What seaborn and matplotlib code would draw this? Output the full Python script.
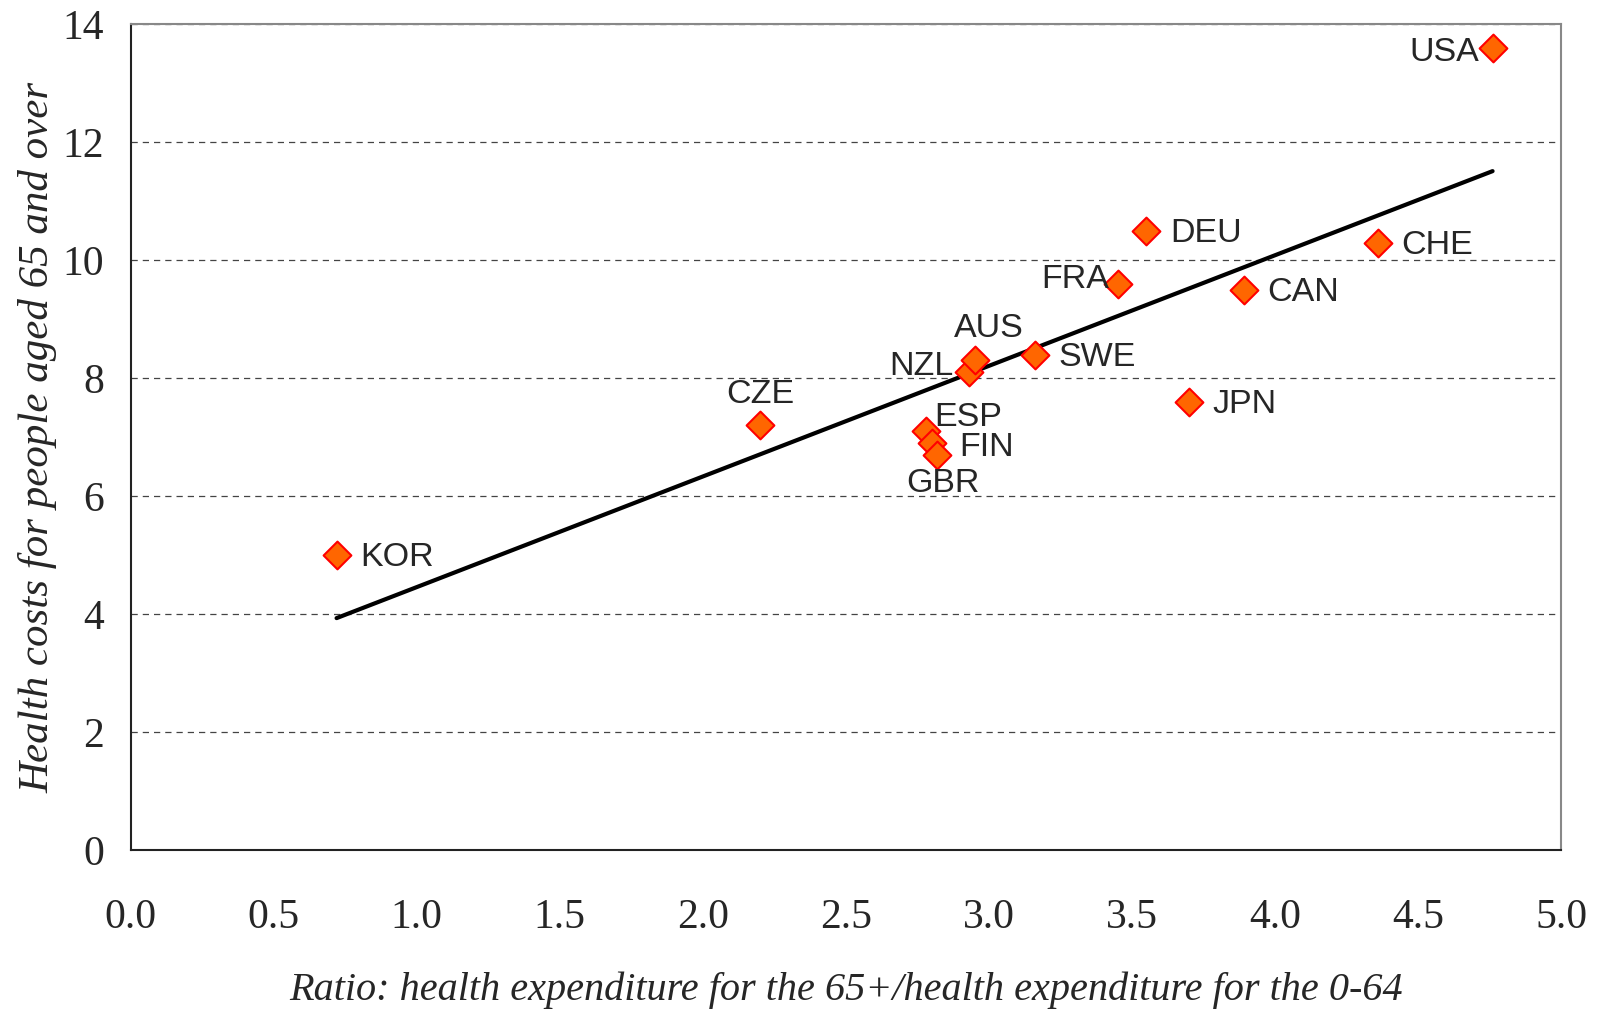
import pandas as pd
import matplotlib
matplotlib.use("Agg")
import matplotlib.pyplot as plt
import seaborn as sns

# Data
countries = ["KOR", "CZE", "ESP", "FIN", "GBR", "NZL", "AUS", "SWE",
             "FRA", "DEU", "JPN", "CAN", "CHE", "USA"]
ratio = [0.72, 2.20, 2.78, 2.80, 2.82, 2.93, 2.95, 3.16,
         3.45, 3.55, 3.70, 3.89, 4.36, 4.76]
costs = [5.0, 7.2, 7.1, 6.9, 6.7, 8.1, 8.3, 8.4,
         9.6, 10.5, 7.6, 9.5, 10.3, 13.6]

df = pd.DataFrame({"country": countries, "ratio": ratio, "costs": costs})

# label placement: offset in points and alignment
label_pos = {
    "KOR": (17, -2, "left"),
    "CZE": (0, 22, "center"),
    "ESP": (6, 10, "left"),
    "FIN": (20, -3, "left"),
    "GBR": (4, -21, "center"),
    "NZL": (-11, 4, "right"),
    "AUS": (10, 23, "center"),
    "SWE": (17, -2, "left"),
    "FRA": (-6, 3, "right"),
    "DEU": (17, -2, "left"),
    "JPN": (17, -2, "left"),
    "CAN": (17, -2, "left"),
    "CHE": (17, -2, "left"),
    "USA": (-10, -3, "right"),
}

sns.set_style("white")

fig, ax = plt.subplots(figsize=(15.98, 10.13), dpi=100)
fig.subplots_adjust(left=0.0817, right=0.977, bottom=0.161, top=0.976)

ax.yaxis.grid(True, linestyle=(0, (5, 4)), color="#444444", linewidth=0.9)
ax.set_axisbelow(True)

sns.regplot(data=df, x="ratio", y="costs", ci=None, truncate=True,
            scatter=False, line_kws={"color": "black", "linewidth": 3}, ax=ax)

sns.scatterplot(data=df, x="ratio", y="costs", marker="D", s=200,
                color="#FF6600", edgecolor="#FF0000", linewidth=1.5,
                zorder=5, ax=ax)

for _, row in df.iterrows():
    dx, dy, ha = label_pos[row["country"]]
    ax.annotate(row["country"], (row["ratio"], row["costs"]),
                xytext=(dx, dy), textcoords="offset points",
                ha=ha, va="center", fontsize=24.5, family="Liberation Sans",
                zorder=6)

ax.set_xlim(0, 5)
ax.set_ylim(0, 14)
ax.set_xticks([i * 0.5 for i in range(11)])
ax.set_xticklabels([f"{i * 0.5:.1f}" for i in range(11)])
ax.set_yticks(range(0, 15, 2))

for lab in ax.get_xticklabels() + ax.get_yticklabels():
    lab.set_family("Liberation Serif")
    lab.set_fontsize(30)

ax.tick_params(axis="x", direction="in", length=9, width=1, color="#555555", pad=35)
ax.tick_params(axis="y", direction="in", length=9, width=1, color="#555555", pad=19)

ax.set_xlabel("Ratio: health expenditure for the 65+/health expenditure for the 0-64",
              family="Liberation Serif", style="italic", fontsize=29, labelpad=25)
ax.set_ylabel("Health costs for people aged 65 and over",
              family="Liberation Serif", style="italic", fontsize=31, labelpad=4)

for side in ["left", "bottom"]:
    ax.spines[side].set_color("#222222")
    ax.spines[side].set_linewidth(1.5)
for side in ["top", "right"]:
    ax.spines[side].set_color("#888888")
    ax.spines[side].set_linewidth(1.5)

plt.savefig("out.png", dpi=100)
